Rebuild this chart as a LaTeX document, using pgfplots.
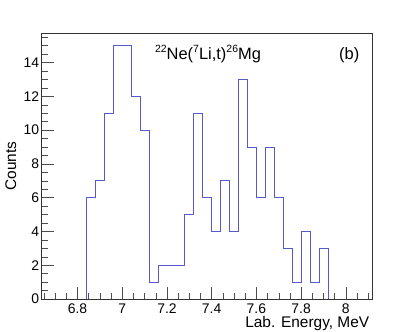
\documentclass[border=0pt]{standalone}
\usepackage{pgfplots}
\pgfplotsset{compat=1.18}
\usepackage{fontspec}
\setmainfont{Liberation Sans}
\definecolor{histblue}{RGB}{88,88,205}
\newcommand\sups[1]{\raisebox{7.3bp}{\fontsize{10.5}{12}\selectfont #1}}
\begin{document}
\begin{tikzpicture}
\useasboundingbox (0,0) rectangle (415bp,332bp);
\begin{axis}[
  at={(41.7bp,33bp)}, anchor=south west,
  scale only axis, width=331bp, height=266bp,
  xmin=6.64, xmax=8.12, ymin=0, ymax=15.75,
  xtick={6.8,7,7.2,7.4,7.6,7.8,8},
  ytick={0,2,4,6,8,10,12,14},
  minor xtick={6.65,6.7,6.75,6.85,6.9,6.95,7.05,7.1,7.15,7.25,7.3,7.35,7.45,7.5,7.55,7.65,7.7,7.75,7.85,7.9,7.95,8.05,8.1},
  minor ytick={0.5,1,1.5,2.5,3,3.5,4.5,5,5.5,6.5,7,7.5,8.5,9,9.5,10.5,11,11.5,12.5,13,13.5,14.5,15,15.5},
  tick pos=left, tick align=inside,
  major tick length=12bp, minor tick length=6bp,
  tick style={black!70, line width=0.5pt},
  axis line style={black!80, line width=0.6pt},
  /pgf/number format/assume math mode=true,
  /pgf/number format/fixed,
  tick label style={font=\fontsize{14}{16}\selectfont},
  xticklabel style={yshift=-1bp},
  yticklabel style={xshift=1bp},
  xlabel={Lab. Energy, MeV},
  ylabel={Counts},
  label style={font=\fontsize{15.5}{17}\selectfont},
  xlabel style={at={(rel axis cs:1,0)}, anchor=north east, yshift=-14bp},
  ylabel style={at={(rel axis cs:0,0.5)}, anchor=south, yshift=22bp},
  clip=false,
]
\addplot[const plot, color=histblue, line width=0.8pt] coordinates {
(6.84,0) (6.84,6) (6.88,7) (6.92,11) (6.96,15) (7.00,15) (7.04,12) (7.08,10)
(7.12,1) (7.16,2) (7.20,2) (7.24,2) (7.28,5) (7.32,11) (7.36,6) (7.40,4)
(7.44,7) (7.48,4) (7.52,13) (7.56,9) (7.60,6) (7.64,9) (7.68,6) (7.72,3)
(7.76,1) (7.80,4) (7.84,1) (7.88,3) (7.92,0)
};
\node[font=\fontsize{16.5}{18}\selectfont, anchor=base west, inner sep=0pt] at (rel axis cs:0.342,0.90) {\sups{22}Ne(\sups{7}Li,t)\sups{26}Mg};
\node[font=\fontsize{16.5}{18}\selectfont, anchor=base west, inner sep=0pt] at (rel axis cs:0.898,0.90) {(b)};
\end{axis}
\end{tikzpicture}
\end{document}
